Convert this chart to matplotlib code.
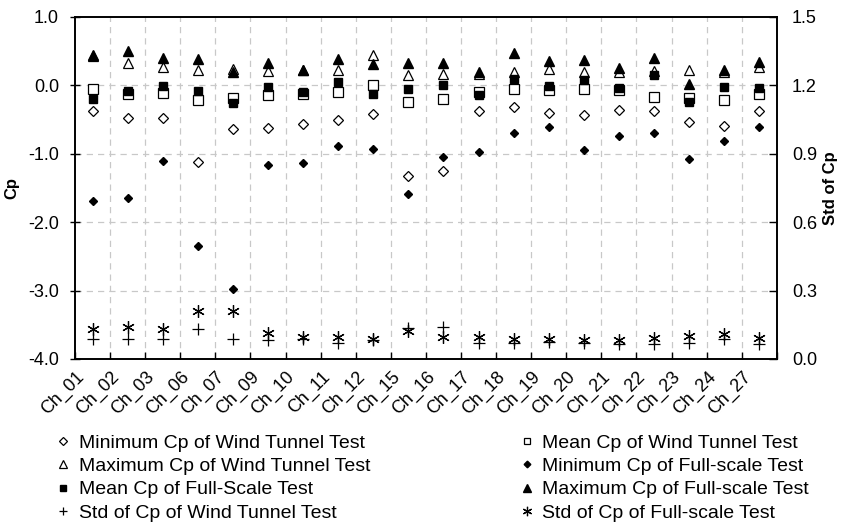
import numpy as np
import matplotlib.pyplot as plt
from matplotlib.transforms import ScaledTranslation

plt.rcParams['font.family'] = ['Liberation Sans', 'DejaVu Sans']
plt.rcParams['axes.unicode_minus'] = False

channels = ['Ch_01', 'Ch_02', 'Ch_03', 'Ch_06', 'Ch_07', 'Ch_09', 'Ch_10', 'Ch_11', 'Ch_12', 'Ch_15',
            'Ch_16', 'Ch_17', 'Ch_18', 'Ch_19', 'Ch_20', 'Ch_21', 'Ch_22', 'Ch_23', 'Ch_24', 'Ch_27']

# pressure coefficients, wind tunnel (wt) and full-scale (fs)
min_wt = [-0.37, -0.47, -0.47, -1.12, -0.64, -0.63, -0.57, -0.51, -0.42, -1.33,
          -1.25, -0.37, -0.32, -0.41, -0.43, -0.36, -0.37, -0.53, -0.60, -0.37]
mean_wt = [-0.05, -0.13, -0.11, -0.22, -0.19, -0.14, -0.13, -0.09, 0.00, -0.24,
           -0.20, -0.10, -0.06, -0.07, -0.06, -0.07, -0.17, -0.18, -0.21, -0.13]
max_wt = [0.43, 0.32, 0.27, 0.23, 0.24, 0.21, 0.22, 0.23, 0.45, 0.15,
          0.17, 0.17, 0.19, 0.24, 0.19, 0.19, 0.21, 0.23, 0.20, 0.27]
min_fs = [-1.69, -1.65, -1.10, -2.35, -2.98, -1.16, -1.13, -0.88, -0.93, -1.59,
          -1.04, -0.97, -0.69, -0.61, -0.94, -0.74, -0.69, -1.07, -0.81, -0.61]
mean_fs = [-0.20, -0.08, -0.01, -0.08, -0.26, -0.03, -0.09, 0.05, -0.12, -0.05,
           0.00, -0.14, 0.10, -0.01, 0.08, -0.04, 0.15, -0.24, -0.03, -0.04]
max_fs = [0.44, 0.51, 0.40, 0.38, 0.20, 0.32, 0.23, 0.38, 0.31, 0.32,
          0.32, 0.20, 0.48, 0.35, 0.37, 0.26, 0.40, 0.02, 0.23, 0.34]

# standard deviation of Cp (right axis)
std_wt = [0.089, 0.089, 0.089, 0.13, 0.089, 0.083, 0.086, 0.072, 0.083, 0.137,
          0.142, 0.069, 0.069, 0.076, 0.069, 0.066, 0.066, 0.072, 0.088, 0.066]
std_fs = [0.13, 0.14, 0.13, 0.21, 0.21, 0.115, 0.098, 0.098, 0.088, 0.124,
          0.095, 0.095, 0.086, 0.086, 0.083, 0.083, 0.091, 0.10, 0.11, 0.091]

x = np.arange(len(channels))
fs = 13

fig = plt.figure(figsize=(8.49, 5.31), dpi=100)
ax = fig.add_axes([0.0883, 0.324, 0.8267, 0.644])
ax2 = ax.twinx()

# grid: dashed lines between channels and at each Cp tick
for b in np.arange(0.5, len(channels) - 1, 1.0):
    ax.axvline(b, color='#c8c8c8', lw=0.9, ls=(0, (5, 4)), zorder=0)
for yv in [0, -1, -2, -3]:
    ax.axhline(yv, color='#c8c8c8', lw=0.9, ls=(0, (5, 4)), zorder=0)

open_kw = dict(ls='none', mfc='white', mec='black', mew=0.9)
fill_kw = dict(ls='none', color='black')

h_min_wt, = ax.plot(x, min_wt, marker='D', ms=5.5, label='Minimum Cp of Wind Tunnel Test', **open_kw)
h_mean_wt, = ax.plot(x, mean_wt, marker='s', ms=6.5, label='Mean Cp of Wind Tunnel Test', **open_kw)
h_max_wt, = ax.plot(x, max_wt, marker='^', ms=7, label='Maximum Cp of Wind Tunnel Test', **open_kw)
h_min_fs, = ax.plot(x, min_fs, marker='D', ms=4.5, label='Minimum Cp of Full-scale Test', **fill_kw)
h_mean_fs, = ax.plot(x, mean_fs, marker='s', ms=6, label='Mean Cp of Full-Scale Test', **fill_kw)
h_max_fs, = ax.plot(x, max_fs, marker='^', ms=7, label='Maximum Cp of Full-scale Test', **fill_kw)

h_std_wt, = ax2.plot(x, std_wt, marker='+', ms=8.5, mew=0.9, ls='none', color='black',
                     label='Std of Cp of Wind Tunnel Test')
h_std_fs, = ax2.plot(x, std_fs, marker=(6, 2, 0), ms=9, mew=0.9, ls='none', color='black',
                     label='Std of Cp of Full-scale Test')

ax.set_xlim(-0.5, len(channels) - 0.5)
ax.set_ylim(-4, 1)
ax2.set_ylim(0, 1.5)
ax.set_yticks([1, 0, -1, -2, -3, -4])
ax.set_yticklabels(['%.1f' % v for v in [1, 0, -1, -2, -3, -4]], fontsize=fs)
ax2.set_yticks([0, 0.3, 0.6, 0.9, 1.2, 1.5])
ax2.set_yticklabels(['%.1f' % v for v in [0, 0.3, 0.6, 0.9, 1.2, 1.5]], fontsize=fs)

# tick marks sit on channel boundaries, labels on channel centres
ax.set_xticks(np.arange(-0.5, len(channels), 1.0))
ax.set_xticklabels([])
ax.tick_params(axis='x', which='major', direction='in', length=5, width=1)
ax.set_xticks(x, minor=True)
ax.set_xticklabels(channels, minor=True, fontsize=fs, rotation=45, ha='right',
                   va='center', rotation_mode='anchor')
ax.tick_params(axis='x', which='minor', length=0, pad=8)
shift = ScaledTranslation(-8 / 72, -3 / 72, fig.dpi_scale_trans)
for lab in ax.get_xticklabels(minor=True):
    lab.set_transform(lab.get_transform() + shift)
ax.tick_params(axis='y', direction='inout', length=7, width=1, pad=8)
ax2.tick_params(axis='y', direction='in', length=6, width=1, pad=11)

for a in (ax, ax2):
    for s in a.spines.values():
        s.set_linewidth(1.2)

ax.set_ylabel('Cp', fontsize=fs - 1, fontweight='bold', labelpad=6)
ax2.set_ylabel('Std of Cp', fontsize=fs - 1, fontweight='bold', labelpad=4)

leg_kw = dict(frameon=False, fontsize=14, handlelength=0.8, handletextpad=0.4,
              labelspacing=0.29, markerscale=0.75, borderaxespad=0, borderpad=0)
fig.legend(handles=[h_min_wt, h_max_wt, h_mean_fs, h_std_wt], loc='upper left',
           bbox_to_anchor=(0.065, 0.182), **leg_kw)
fig.legend(handles=[h_mean_wt, h_min_fs, h_max_fs, h_std_fs], loc='upper left',
           bbox_to_anchor=(0.611, 0.182), **leg_kw)

fig.savefig('out.png', dpi=100)
